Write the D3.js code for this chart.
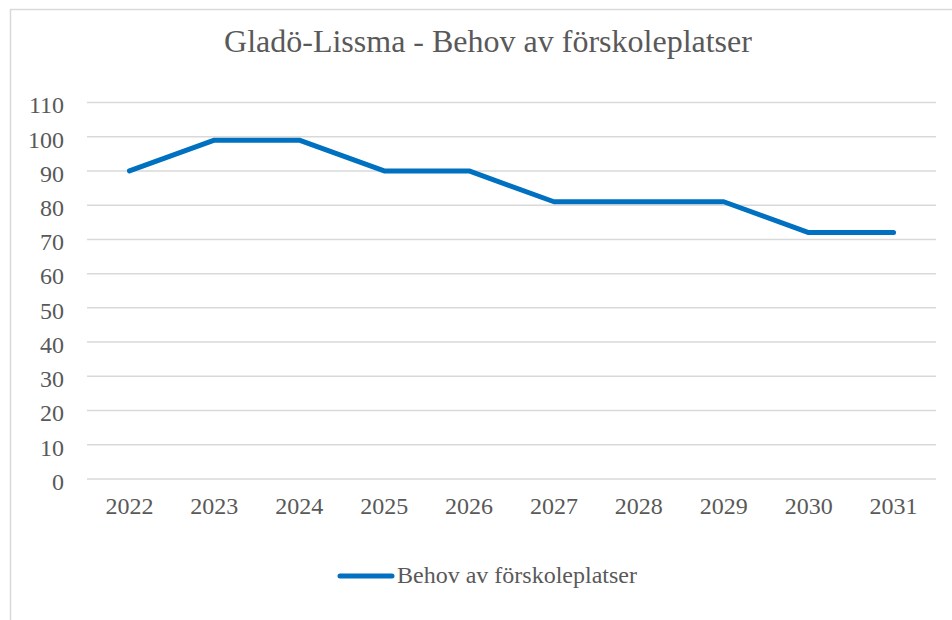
<!DOCTYPE html>
<html>
<head>
<meta charset="utf-8">
<script src="https://cdn.jsdelivr.net/npm/d3@7"></script>
</head>
<body style="margin:0">
<svg width="952" height="620"></svg>
<script>
// chart data
var years = ["2022", "2023", "2024", "2025", "2026", "2027", "2028", "2029", "2030", "2031"];
var behov = [90, 99, 99, 90, 90, 81, 81, 81, 72, 72];
var yTicks = [0, 10, 20, 30, 40, 50, 60, 70, 80, 90, 100, 110];
var seriesName = "Behov av förskoleplatser";
var title = "Gladö-Lissma - Behov av förskoleplatser";

var font = "'Liberation Serif'";
var textColor = "#595959";

var svg = d3.select("svg");

// chart area border (only left and top visible in the crop)
svg.append("rect")
  .attr("x", 10.5).attr("y", 9.5)
  .attr("width", 1000).attr("height", 700)
  .attr("fill", "#fff")
  .attr("stroke", "#d9d9d9")
  .attr("stroke-width", 1.5);

var margin = { top: 102.5, left: 87, right: 16, bottom: 141 },
  width = 952 - margin.left - margin.right,
  height = 620 - margin.top - margin.bottom;

var x = d3.scaleBand().domain(years).range([0, width]);
var y = d3.scaleLinear().domain([0, 110]).range([height, 0]);

var g = svg.append("g")
  .attr("transform", "translate(" + margin.left + "," + margin.top + ")");

// gridlines
g.selectAll(".grid")
  .data(yTicks)
  .enter().append("line")
  .attr("class", "grid")
  .attr("x1", 0).attr("x2", width)
  .attr("y1", function (d) { return y(d); })
  .attr("y2", function (d) { return y(d); })
  .attr("stroke", "#d9d9d9")
  .attr("stroke-width", 1.5);

// y axis
var yAxis = g.append("g")
  .call(d3.axisLeft(y).tickValues(yTicks).tickSize(0).tickPadding(23))
  .attr("font-family", font);
yAxis.select(".domain").remove();
yAxis.selectAll("text")
  .attr("font-family", font)
  .attr("font-size", 24)
  .attr("fill", textColor)
  .attr("dy", "0.43em");

// x axis
var xAxis = g.append("g")
  .attr("transform", "translate(0," + height + ")")
  .call(d3.axisBottom(x).tickSize(0))
  .attr("font-family", font);
xAxis.select(".domain").remove();
xAxis.selectAll("text")
  .attr("font-family", font)
  .attr("font-size", 24)
  .attr("fill", textColor)
  .attr("y", 35)
  .attr("dy", 0);

// series line
var line = d3.line()
  .x(function (d, i) { return x(years[i]) + x.bandwidth() / 2; })
  .y(function (d) { return y(d); });

g.append("path")
  .datum(behov)
  .attr("fill", "none")
  .attr("stroke", "#0070c0")
  .attr("stroke-width", 5)
  .attr("stroke-linejoin", "round")
  .attr("stroke-linecap", "round")
  .attr("d", line);

// title
svg.append("text")
  .attr("x", 488)
  .attr("y", 52)
  .attr("text-anchor", "middle")
  .attr("font-family", font)
  .attr("font-size", 32)
  .attr("fill", textColor)
  .text(title);

// legend
svg.append("line")
  .attr("x1", 340).attr("x2", 392)
  .attr("y1", 576).attr("y2", 576)
  .attr("stroke", "#0070c0")
  .attr("stroke-width", 5)
  .attr("stroke-linecap", "round");

svg.append("text")
  .attr("x", 397)
  .attr("y", 583)
  .attr("font-family", font)
  .attr("font-size", 24)
  .attr("fill", textColor)
  .text(seriesName);

// force layout so the serif face is picked up before the snapshot
svg.selectAll("text").each(function () { this.getComputedTextLength(); });
</script>
</body>
</html>
